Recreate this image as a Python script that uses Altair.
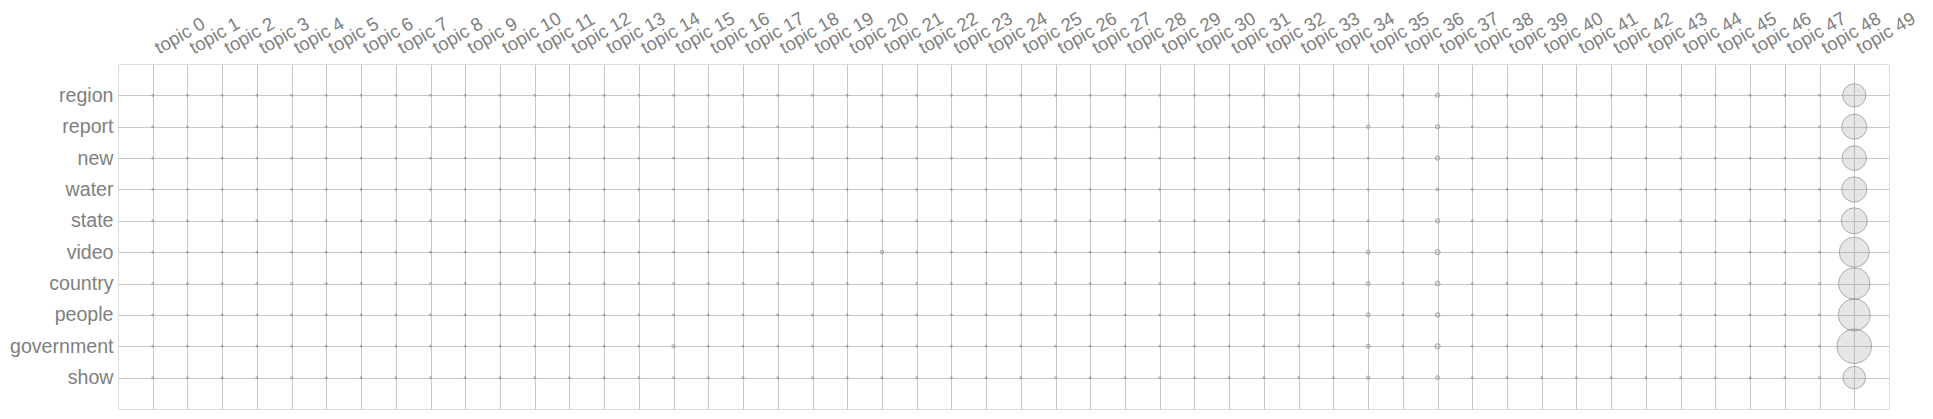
import altair as alt
import pandas as pd

words = ["region", "report", "new", "water", "state", "video", "country", "people", "government", "show"]
topics = [f"topic {i}" for i in range(50)]

# weight of each word in each topic (topic 0 ... topic 49)
region = [0.0001, 0.0001, 0.0001, 0.0001, 0.0001, 0.0001, 0.0001, 0.0001, 0.0001, 0.0001,
          0.0001, 0.0001, 0.0001, 0.0001, 0.0001, 0.0001, 0.0001, 0.0001, 0.0001, 0.0001,
          0.0001, 0.0001, 0.0001, 0.0001, 0.0001, 0.0001, 0.0001, 0.0001, 0.0001, 0.0001,
          0.0001, 0.0001, 0.0001, 0.0001, 0.0001, 0.0001, 0.0001, 0.0005, 0.0001, 0.0001,
          0.0001, 0.0001, 0.0001, 0.0001, 0.0001, 0.0001, 0.0001, 0.0001, 0.0001, 0.0137]
report = [0.0001, 0.0001, 0.0001, 0.0001, 0.0001, 0.0001, 0.0001, 0.0001, 0.0001, 0.0001,
          0.0001, 0.0001, 0.0001, 0.0001, 0.0001, 0.0001, 0.0001, 0.0001, 0.0001, 0.0001,
          0.0001, 0.0001, 0.0001, 0.0001, 0.0001, 0.0001, 0.0001, 0.0001, 0.0001, 0.0001,
          0.0001, 0.0001, 0.0001, 0.0001, 0.0001, 0.0003, 0.0001, 0.0005, 0.0001, 0.0001,
          0.0001, 0.0001, 0.0001, 0.0001, 0.0001, 0.0001, 0.0001, 0.0001, 0.0001, 0.0158]
new = [0.0001, 0.0001, 0.0001, 0.0001, 0.0001, 0.0001, 0.0001, 0.0001, 0.0001, 0.0001,
       0.0001, 0.0001, 0.0001, 0.0001, 0.0001, 0.0001, 0.0001, 0.0001, 0.0001, 0.0001,
       0.0001, 0.0001, 0.0001, 0.0001, 0.0001, 0.0001, 0.0001, 0.0001, 0.0001, 0.0001,
       0.0001, 0.0001, 0.0001, 0.0001, 0.0001, 0.0001, 0.0001, 0.0005, 0.0001, 0.0001,
       0.0001, 0.0001, 0.0001, 0.0001, 0.0001, 0.0001, 0.0001, 0.0001, 0.0001, 0.0151]
water = [0.0001, 0.0001, 0.0001, 0.0001, 0.0001, 0.0001, 0.0001, 0.0001, 0.0001, 0.0001,
         0.0001, 0.0001, 0.0001, 0.0001, 0.0001, 0.0001, 0.0001, 0.0001, 0.0001, 0.0001,
         0.0001, 0.0001, 0.0001, 0.0001, 0.0001, 0.0001, 0.0001, 0.0001, 0.0001, 0.0001,
         0.0001, 0.0001, 0.0001, 0.0001, 0.0001, 0.0001, 0.0001, 0.0002, 0.0001, 0.0001,
         0.0001, 0.0001, 0.0001, 0.0001, 0.0001, 0.0001, 0.0001, 0.0001, 0.0001, 0.0160]
state = [0.0001, 0.0001, 0.0001, 0.0001, 0.0001, 0.0001, 0.0001, 0.0001, 0.0001, 0.0001,
         0.0001, 0.0001, 0.0001, 0.0001, 0.0001, 0.0001, 0.0001, 0.0001, 0.0001, 0.0001,
         0.0001, 0.0001, 0.0001, 0.0001, 0.0001, 0.0001, 0.0001, 0.0001, 0.0001, 0.0001,
         0.0001, 0.0001, 0.0001, 0.0001, 0.0001, 0.0001, 0.0001, 0.0005, 0.0001, 0.0001,
         0.0001, 0.0001, 0.0001, 0.0001, 0.0001, 0.0001, 0.0001, 0.0001, 0.0001, 0.0170]
video = [0.0001, 0.0001, 0.0001, 0.0001, 0.0001, 0.0001, 0.0001, 0.0001, 0.0001, 0.0001,
         0.0001, 0.0001, 0.0001, 0.0001, 0.0001, 0.0001, 0.0001, 0.0001, 0.0001, 0.0001,
         0.0001, 0.0003, 0.0001, 0.0001, 0.0001, 0.0001, 0.0001, 0.0001, 0.0001, 0.0001,
         0.0001, 0.0001, 0.0001, 0.0001, 0.0001, 0.0004, 0.0001, 0.0007, 0.0001, 0.0001,
         0.0001, 0.0001, 0.0001, 0.0001, 0.0001, 0.0001, 0.0001, 0.0001, 0.0001, 0.0227]
country = [0.0001, 0.0001, 0.0001, 0.0001, 0.0001, 0.0001, 0.0001, 0.0001, 0.0001, 0.0001,
           0.0001, 0.0001, 0.0001, 0.0001, 0.0001, 0.0001, 0.0001, 0.0001, 0.0001, 0.0001,
           0.0001, 0.0001, 0.0001, 0.0001, 0.0001, 0.0001, 0.0001, 0.0001, 0.0001, 0.0001,
           0.0001, 0.0001, 0.0001, 0.0001, 0.0001, 0.0004, 0.0001, 0.0006, 0.0001, 0.0001,
           0.0001, 0.0001, 0.0001, 0.0001, 0.0001, 0.0001, 0.0001, 0.0001, 0.0001, 0.0250]
people = [0.0001, 0.0001, 0.0001, 0.0001, 0.0001, 0.0001, 0.0001, 0.0001, 0.0001, 0.0001,
          0.0001, 0.0001, 0.0001, 0.0001, 0.0001, 0.0001, 0.0001, 0.0001, 0.0001, 0.0001,
          0.0001, 0.0001, 0.0001, 0.0001, 0.0001, 0.0001, 0.0001, 0.0001, 0.0001, 0.0001,
          0.0001, 0.0001, 0.0001, 0.0001, 0.0001, 0.0004, 0.0001, 0.0005, 0.0001, 0.0001,
          0.0001, 0.0001, 0.0001, 0.0001, 0.0001, 0.0001, 0.0001, 0.0001, 0.0001, 0.0258]
government = [0.0001, 0.0001, 0.0001, 0.0001, 0.0001, 0.0001, 0.0001, 0.0001, 0.0001, 0.0001,
              0.0001, 0.0001, 0.0001, 0.0001, 0.0001, 0.0003, 0.0001, 0.0001, 0.0001, 0.0001,
              0.0001, 0.0001, 0.0001, 0.0001, 0.0001, 0.0001, 0.0001, 0.0001, 0.0001, 0.0001,
              0.0001, 0.0001, 0.0001, 0.0001, 0.0001, 0.0004, 0.0001, 0.0007, 0.0001, 0.0001,
              0.0001, 0.0001, 0.0001, 0.0001, 0.0001, 0.0001, 0.0001, 0.0001, 0.0001, 0.0300]
show = [0.0001, 0.0001, 0.0001, 0.0001, 0.0001, 0.0001, 0.0001, 0.0001, 0.0001, 0.0001,
        0.0001, 0.0001, 0.0001, 0.0001, 0.0001, 0.0001, 0.0001, 0.0001, 0.0001, 0.0001,
        0.0001, 0.0001, 0.0001, 0.0001, 0.0001, 0.0001, 0.0001, 0.0001, 0.0001, 0.0001,
        0.0001, 0.0001, 0.0001, 0.0001, 0.0001, 0.0003, 0.0001, 0.0004, 0.0001, 0.0001,
        0.0001, 0.0001, 0.0001, 0.0001, 0.0001, 0.0001, 0.0001, 0.0001, 0.0001, 0.0128]

rows = [region, report, new, water, state, video, country, people, government, show]
records = []
for w, vals in zip(words, rows):
    for t, v in zip(topics, vals):
        records.append({"word": w, "topic": t, "weight": v})
df = pd.DataFrame(records)

FONT = "Liberation Sans"

chart = (
    alt.Chart(df)
    .mark_circle(
        fill="#808080",
        fillOpacity=0.2,
        stroke="#808080",
        strokeOpacity=0.6,
        strokeWidth=1,
        opacity=1,
    )
    .encode(
        x=alt.X(
            "topic:N",
            sort=topics,
            scale=alt.Scale(type="point", padding=1),
            axis=alt.Axis(
                orient="top",
                title=None,
                domain=False,
                ticks=False,
                grid=True,
                gridColor="#c8c8c8",
                gridWidth=1,
                labelAngle=330,
                labelAlign="left",
                labelBaseline="alphabetic",
                labelPadding=10,
                labelOffset=6,
                labelFont=FONT,
                labelFontSize=18.5,
                labelColor="#808080",
                labelOverlap=False,
                labelBound=False,
                labelFlush=False,
            ),
        ),
        y=alt.Y(
            "word:N",
            sort=words,
            scale=alt.Scale(type="point", padding=1),
            axis=alt.Axis(
                title=None,
                domain=False,
                ticks=False,
                grid=True,
                gridColor="#c8c8c8",
                gridWidth=1,
                labelPadding=5,
                labelFont=FONT,
                labelFontSize=19.6,
                labelColor="#808080",
                labelOverlap=False,
            ),
        ),
        size=alt.Size(
            "weight:Q",
            scale=alt.Scale(type="linear", domain=[0, 0.03], range=[0, 1190], zero=True),
            legend=None,
        ),
    )
    .properties(
        width=1771,
        height=345,
        autosize=alt.AutoSizeParams(type="none"),
        padding={"left": 110, "top": 56, "right": 35, "bottom": 5},
    )
    .configure_view(stroke="#cccccc", strokeWidth=1)
    .configure(background="white")
)

chart.save("out.html", embed_options={"renderer": "svg", "actions": False})
